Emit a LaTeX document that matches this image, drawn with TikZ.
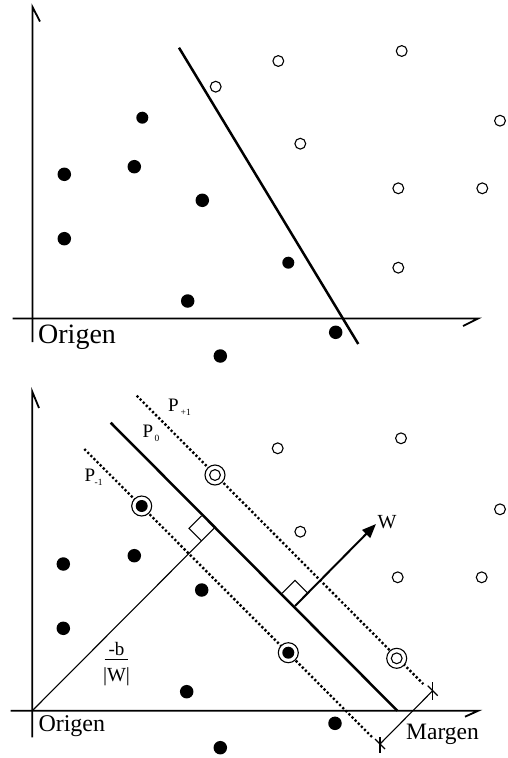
\documentclass[tikz,border=0pt]{standalone}
\usepackage{fontspec}
\setmainfont{Liberation Serif}
\usetikzlibrary{arrows.meta,calc}
\tikzset{
  axis/.style={line width=1.8pt},
  sepline/.style={line width=2.5pt},
  thinline/.style={line width=1.1pt},
  dotline/.style={line width=2.4pt, dash pattern=on 2.2pt off 2.2pt},
  hollow/.style={circle, draw, line width=1.1pt, fill=white, minimum size=10.8pt, inner sep=0pt},
  filled/.style={circle, fill=black, minimum size=13.5pt, inner sep=0pt},
  smallfilled/.style={circle, fill=black, minimum size=12pt, inner sep=0pt},
  ring/.style={circle, draw, line width=1.1pt, fill=white, minimum size=20pt, inner sep=0pt},
  lbl/.style={inner sep=0pt, anchor=base west},
}
\begin{document}
\begin{tikzpicture}[x=1pt,y=-1pt]
\useasboundingbox (0,0) rectangle (507,758);

% ===== Top panel =====
\coordinate (tya) at (32.5,7);
\coordinate (tyb) at (32.5,342);
\coordinate (tyt) at (40,21.5);
\coordinate (txa) at (12.7,318.5);
\coordinate (txb) at (478,318.5);
\coordinate (txt) at (463,326);
\draw[axis] (tyt) -- (tya) -- (tyb);
\draw[axis] (txa) -- (txb) -- (txt);
\coordinate (ts1) at (179,47.7);
\coordinate (ts2) at (358.3,344);
\draw[sepline] (ts1) -- (ts2);

\node[hollow] (th1) at (215.7,86.7) {};
\node[hollow] (th2) at (278.3,61) {};
\node[hollow] (th3) at (401.7,51) {};
\node[hollow] (th4) at (500,120.7) {};
\node[hollow] (th5) at (300.3,143.7) {};
\node[hollow] (th6) at (398.3,188.3) {};
\node[hollow] (th7) at (482.3,188.3) {};
\node[hollow] (th8) at (398.3,267.7) {};

\node[smallfilled] (tf1) at (142.3,117.7) {};
\node[filled] (tf2) at (134.3,166.7) {};
\node[filled] (tf3) at (64.3,174.3) {};
\node[filled] (tf4) at (202.3,200.3) {};
\node[filled] (tf5) at (64.3,238.7) {};
\node[smallfilled] (tf6) at (288.3,262.7) {};
\node[filled] (tf7) at (187.7,301) {};
\node[filled] (tf8) at (335.7,332.3) {};
\node[filled] (tf9) at (220.3,356) {};

\node[lbl] (torig) at (38,343) {\fontsize{28}{30}\selectfont Origen};

% ===== Bottom panel =====
\coordinate (bya) at (32.3,391.7);
\coordinate (byb) at (32.3,737.3);
\coordinate (byt) at (39,408);
\coordinate (bxa) at (10.7,710.7);
\coordinate (bxb) at (478.3,710.7);
\coordinate (bxt) at (465,716.7);
\draw[axis] (byt) -- (bya) -- (byb);
\draw[axis] (bxa) -- (bxb) -- (bxt);

\coordinate (O) at (32.3,710.7);
\coordinate (p0a) at (110.7,422.7);
\coordinate (p0b) at (397.3,710.7);
\coordinate (ppa) at (136.7,395.7);
\coordinate (ppb) at (423.3,684);
\coordinate (pma) at (84.3,449);
\coordinate (pmb) at (373.3,738.3);
\draw[dotline] (ppa) -- (ppb);
\draw[dotline] (pma) -- (pmb);
\draw[sepline] (p0a) -- (p0b);

% -b/|W| line and right angle
\coordinate (F) at (214,528.3);
\draw[thinline] (O) -- (F);
\draw[thinline] ($(F)+(-12.5,-12.5)$) -- ($(F)+(-25,0)$) -- ($(F)+(-12.5,12.5)$);

% W vector
\coordinate (B) at (295,606);
\coordinate (Wt) at (376,524);
\draw[line width=2pt, -{Triangle[length=14pt,width=11pt]}] (B) -- (Wt);
\draw[thinline] ($(B)+(-12.8,-12.8)$) -- ($(B)+(0,-25.6)$) -- ($(B)+(12.8,-12.8)$);
\node[lbl] (wl) at (377.5,528.3) {\fontsize{20}{21}\selectfont W};

% margin
\coordinate (m1) at (380,744);
\coordinate (m2) at (432.7,690.7);
\draw[thinline] (m1) -- (m2);
\draw[thinline] ($(m2)+(0,-8.5)$) -- ($(m2)+(0,9)$);
\draw[thinline] ($(m2)+(-5,-5)$) -- ($(m2)+(5,5)$);
\draw[thinline] ($(m1)+(0,-7)$) -- ($(m1)+(0,9)$);
\draw[thinline] ($(m1)+(-5,-5)$) -- ($(m1)+(5,5)$);

% points
\node[hollow] (bh1) at (277.7,448.3) {};
\node[hollow] (bh2) at (401,438.3) {};
\node[hollow] (bh3) at (500,509.3) {};
\node[hollow] (bh4) at (300.3,531.7) {};
\node[hollow] (bh5) at (397.7,577.3) {};
\node[hollow] (bh6) at (481.7,577.3) {};

\node[ring] (sv1) at (215,475) {};
\node[hollow] at (sv1) {};
\node[ring] (sv2) at (396.7,658.3) {};
\node[hollow] at (sv2) {};
\node[ring] (sv3) at (141.7,506) {};
\node[smallfilled] at (sv3) {};
\node[ring] (sv4) at (288.3,652.7) {};
\node[smallfilled] at (sv4) {};

\node[filled] (bf1) at (134.3,555.7) {};
\node[filled] (bf2) at (63.3,564) {};
\node[filled] (bf3) at (201.7,590) {};
\node[filled] (bf4) at (63.3,628.3) {};
\node[filled] (bf5) at (186.7,691.7) {};
\node[filled] (bf6) at (335,723.3) {};
\node[filled] (bf7) at (220.3,747.7) {};

% labels
\node[lbl] (lpp) at (168,411.7) {\fontsize{19}{20}\selectfont P};
\node[lbl] (lpps) at (180.5,415.7) {\fontsize{9.5}{10}\selectfont +1};
\node[lbl] (lp0) at (142.5,437.7) {\fontsize{19}{20}\selectfont P};
\node[lbl] (lp0s) at (154.5,441.7) {\fontsize{9.5}{10}\selectfont 0};
\node[lbl] (lpm) at (84.5,481.7) {\fontsize{19}{20}\selectfont P};
\node[lbl] (lpms) at (94.5,485) {\fontsize{9.5}{10}\selectfont -1};

\node[inner sep=0pt, anchor=base] (fnum) at (116.5,655) {\fontsize{19}{20}\selectfont -b};
\coordinate (fb1) at (104.5,659.5);
\coordinate (fb2) at (128,659.5);
\draw[line width=1.1pt] (fb1) -- (fb2);
\node[inner sep=0pt, anchor=base] (fden) at (116.5,681.5) {\fontsize{20}{21}\selectfont |W|};

\node[lbl] (borig) at (38.3,731.7) {\fontsize{24}{26}\selectfont Origen};
\node[lbl] (marg) at (406,739) {\fontsize{23.5}{25}\selectfont Margen};
\end{tikzpicture}
\end{document}
